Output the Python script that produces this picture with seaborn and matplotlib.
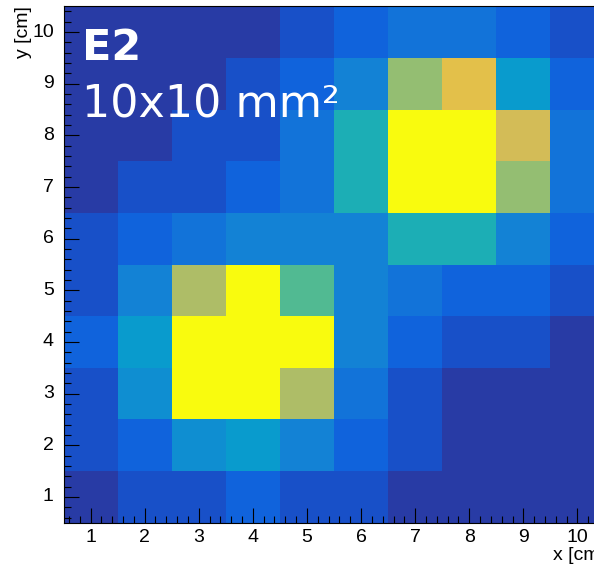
import numpy as np
import pandas as pd
import matplotlib
matplotlib.use("Agg")
import matplotlib.pyplot as plt
from matplotlib.colors import LinearSegmentedColormap
from matplotlib.ticker import MultipleLocator
import seaborn as sns

# Pad positions along each axis [cm]
x_cm = [1, 2, 3, 4, 5, 6, 7, 8, 9, 10]
y_cm = [10, 9, 8, 7, 6, 5, 4, 3, 2, 1]

# Relative signal per pad, one list per row (top row y = 10 cm first)
row_y10 = [0.045, 0.045, 0.045, 0.045, 0.097, 0.150, 0.205, 0.205, 0.150, 0.097]
row_y9 = [0.045, 0.045, 0.045, 0.097, 0.150, 0.255, 0.645, 0.800, 0.345, 0.150]
row_y8 = [0.045, 0.045, 0.097, 0.097, 0.205, 0.445, 1.000, 1.000, 0.755, 0.205]
row_y7 = [0.045, 0.097, 0.097, 0.150, 0.205, 0.445, 1.000, 1.000, 0.645, 0.205]
row_y6 = [0.097, 0.150, 0.205, 0.255, 0.255, 0.255, 0.445, 0.445, 0.255, 0.150]
row_y5 = [0.097, 0.255, 0.690, 1.000, 0.550, 0.255, 0.205, 0.150, 0.150, 0.097]
row_y4 = [0.150, 0.345, 1.000, 1.000, 1.000, 0.255, 0.150, 0.097, 0.097, 0.045]
row_y3 = [0.097, 0.300, 1.000, 1.000, 0.690, 0.205, 0.097, 0.045, 0.045, 0.045]
row_y2 = [0.097, 0.150, 0.300, 0.345, 0.255, 0.150, 0.097, 0.045, 0.045, 0.045]
row_y1 = [0.045, 0.097, 0.097, 0.150, 0.097, 0.097, 0.045, 0.045, 0.045, 0.045]

rows = [row_y10, row_y9, row_y8, row_y7, row_y6,
        row_y5, row_y4, row_y3, row_y2, row_y1]
grid = pd.DataFrame(rows, index=y_cm, columns=x_cm)

# "Bird" palette
bird_stops = [0.0, 0.125, 0.25, 0.375, 0.5, 0.625, 0.75, 0.875, 1.0]
bird_r = [0.2082, 0.0592, 0.0780, 0.0232, 0.1802, 0.5301, 0.8186, 0.9956, 0.9764]
bird_g = [0.1664, 0.3599, 0.5041, 0.6419, 0.7178, 0.7492, 0.7328, 0.7862, 0.9832]
bird_b = [0.5293, 0.8684, 0.8385, 0.7914, 0.6425, 0.4662, 0.3499, 0.1968, 0.0539]
bird = LinearSegmentedColormap.from_list(
    "bird", list(zip(bird_stops, zip(bird_r, bird_g, bird_b))), N=256)

W, H, DPI = 594, 568, 100
fig = plt.figure(figsize=(W / DPI, H / DPI), dpi=DPI)
ax_left, ax_right = 63.5, 604.5
ax_top, ax_bottom = 6.2, 522.8
ax = fig.add_axes([ax_left / W, 1 - ax_bottom / H,
                   (ax_right - ax_left) / W, (ax_bottom - ax_top) / H])

sns.heatmap(grid, ax=ax, cmap=bird, vmin=0.0, vmax=1.0, cbar=False,
            linewidths=0, square=False)

label_font = "Liberation Sans"

# value v sits at cell centre (v - 0.5) on x and (10.5 - v) on y
ax.set_xticks([v - 0.5 for v in x_cm])
ax.set_xticklabels([str(v) for v in x_cm], rotation=0,
                   fontfamily=label_font, fontsize=14)
ax.set_yticks([10.5 - v for v in y_cm])
ax.set_yticklabels([str(v) for v in y_cm], rotation=0,
                   fontfamily=label_font, fontsize=14)
ax.xaxis.set_minor_locator(MultipleLocator(0.2, offset=0.1))
ax.yaxis.set_minor_locator(MultipleLocator(0.2, offset=0.1))
ax.set_xlim(0, 10)
ax.set_ylim(10, 0)

ax.tick_params(axis="both", which="major", direction="in", length=10.5,
               width=0.8, color="black", labelcolor="black")
ax.tick_params(axis="both", which="minor", direction="in", length=5.2,
               width=0.8, color="black")
ax.tick_params(axis="x", which="major", pad=4.5)
ax.tick_params(axis="y", which="major", pad=7.0)
ax.tick_params(top=False, right=False, which="both")

for side in ["left", "bottom", "top", "right"]:
    ax.spines[side].set_visible(True)
    ax.spines[side].set_color("black")
    ax.spines[side].set_linewidth(0.8)

ax.set_xlabel("x [cm]", fontfamily=label_font, fontsize=14, ha="right")
ax.xaxis.set_label_coords(1.0, -0.046)
ax.set_ylabel("y [cm]", fontfamily=label_font, fontsize=14, ha="right")
ax.yaxis.set_label_coords(-0.059, 1.0)

ax.text(0.035, 0.896, "E2", transform=ax.transAxes, color="white",
        fontsize=31, fontweight="bold", fontfamily="DejaVu Sans",
        ha="left", va="baseline")
ax.text(0.035, 0.7855, "10x10 mm²", transform=ax.transAxes, color="white",
        fontsize=32, fontfamily="DejaVu Sans", ha="left", va="baseline")

fig.savefig("out.png", dpi=DPI)
